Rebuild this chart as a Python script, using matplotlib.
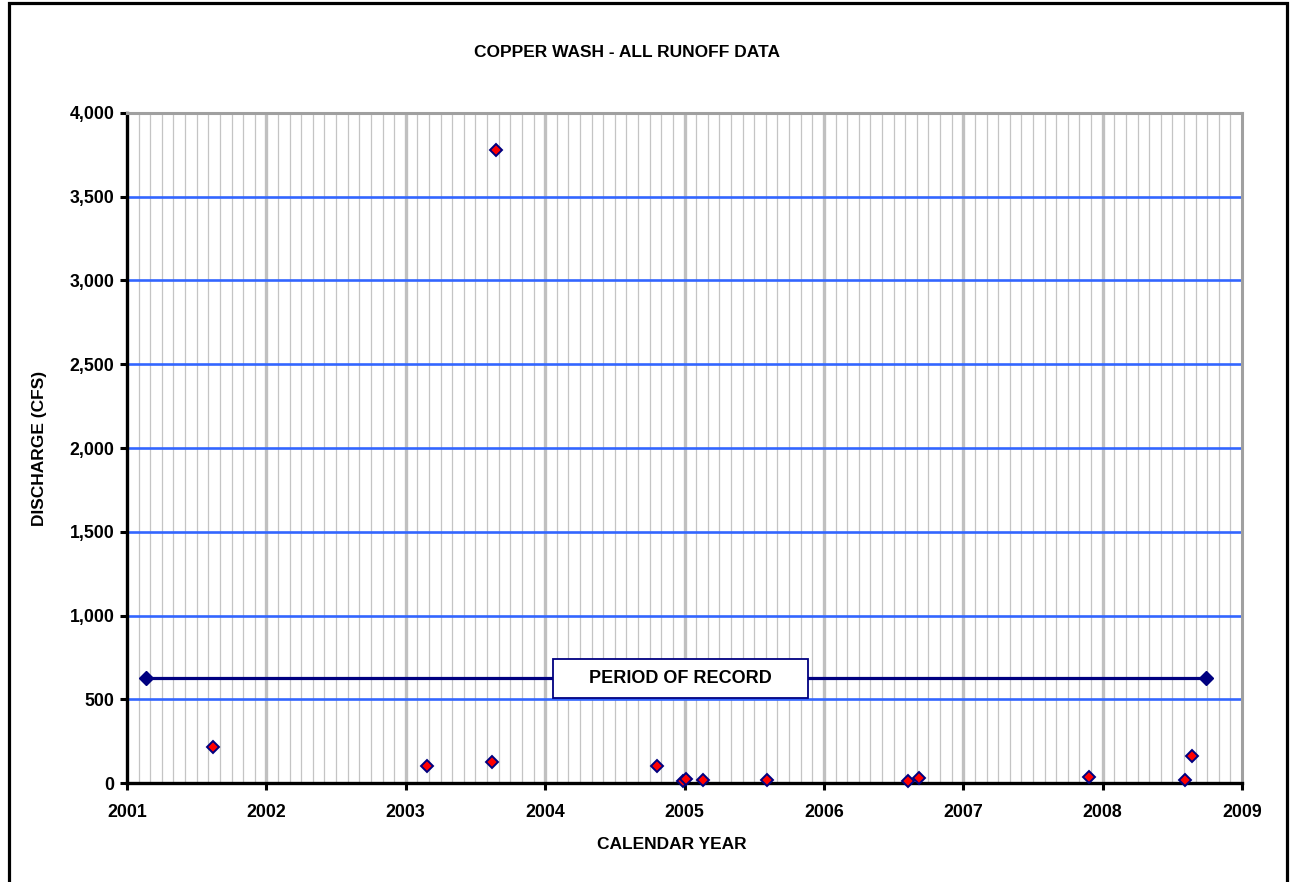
import numpy as np
import matplotlib
matplotlib.use("Agg")
import matplotlib.pyplot as plt
from matplotlib.patches import Rectangle
from matplotlib.ticker import FuncFormatter, MultipleLocator

# runoff events (decimal year, discharge cfs)
event_year = [2001.62, 2003.15, 2003.62, 2003.65, 2004.80, 2004.99, 2005.01,
              2005.13, 2005.59, 2006.60, 2006.68, 2007.90, 2008.59, 2008.64]
event_cfs = [215, 100, 125, 3780, 100, 12, 24, 18, 18, 12, 28, 36, 18, 160]

# period of record
record_year = [2001.14, 2008.74]
record_cfs = [625, 625]

year_ticks = list(range(2001, 2010))

plt.rcParams.update({'font.family': ['Liberation Sans', 'DejaVu Sans']})
plt.rcParams.update({'font.weight': 'bold'})

fig = plt.figure(figsize=(12.93, 8.82), dpi=100)
ax = fig.add_axes([0.0982, 0.1122, 0.8624, 0.7597])

# month lines and year lines
for yr in range(2001, 2009):
    for m in range(1, 12):
        ax.axvline(yr + m / 12., color='#c4c4c4', lw=0.9, zorder=0)
for yr in year_ticks[1:-1]:
    ax.axvline(yr, color='#c0c0c0', lw=2.4, zorder=0)
for v in range(500, 4001, 500):
    ax.axhline(v, color='#3366ff', lw=1.9, zorder=1)

ax.plot(record_year, record_cfs, '-D', color='#000080', lw=2.3, ms=7, zorder=3)
ax.plot(event_year, event_cfs, 'D', ms=6.5, mfc='red', mec='#000080', mew=1.4,
        ls='none', zorder=4, clip_on=False)

ax.text(2004.97, 625, '     PERIOD OF RECORD     ', ha='center', va='center', fontsize=13,
        fontweight='bold', zorder=5,
        bbox=dict(boxstyle='square,pad=0.6', fc='white', ec='#000080', lw=1.3))

ax.set_xlim(2001, 2009)
ax.set_ylim(0, 4000)
ax.set_xticks(year_ticks)
ax.yaxis.set_major_locator(MultipleLocator(500))
ax.yaxis.set_major_formatter(FuncFormatter(lambda v, p: '{:,.0f}'.format(v)))

for s in ['left', 'bottom']:
    ax.spines[s].set_linewidth(2.4)
    ax.spines[s].set_color('black')
for s in ['top', 'right']:
    ax.spines[s].set_linewidth(2.2)
    ax.spines[s].set_color('#a0a0a0')

ax.tick_params(axis='both', width=2.2, length=5, labelsize=12.8, direction='out')
ax.tick_params(axis='x', pad=10)
ax.tick_params(axis='y', pad=4)
for lab in ax.get_xticklabels() + ax.get_yticklabels():
    lab.set_fontweight('bold')

ax.set_xlabel('CALENDAR YEAR', fontsize=12.5, fontweight='bold')
ax.xaxis.set_label_coords(0.489, -0.08)
ax.set_ylabel('DISCHARGE (CFS)', fontsize=12.5, fontweight='bold', labelpad=16)
fig.text(0.485, 0.941, 'COPPER WASH - ALL RUNOFF DATA', ha='center', va='center',
         fontsize=12.5, fontweight='bold')

# outer frame, bottom cut off
fig.patches.append(Rectangle((0.0066, -0.05), 0.9888, 1.0462, transform=fig.transFigure,
                             fill=False, ec='black', lw=2.3))

fig.savefig('out.png', dpi=100)
plt.close(fig)
